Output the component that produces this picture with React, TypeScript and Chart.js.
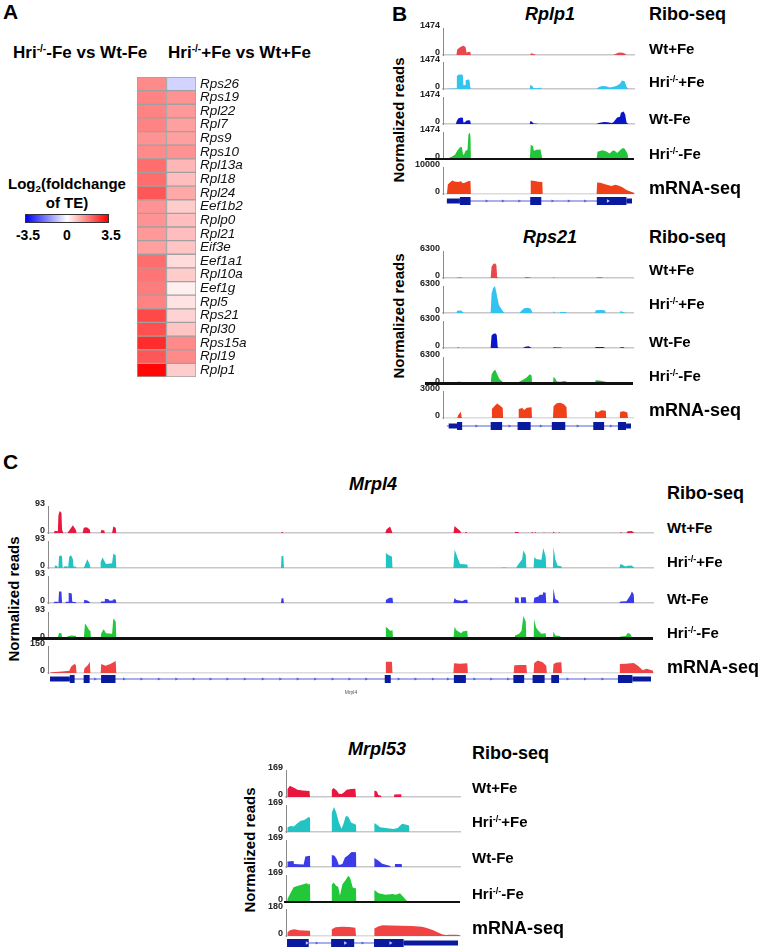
import React, { useEffect, useRef } from 'react';
import { Chart, registerables } from 'chart.js';
Chart.register(...registerables);

const FONT = '"Liberation Sans", Arial, Helvetica, sans-serif';

// ---------------- Panel A data ----------------
const heatGenes = ['Rps26','Rps19','Rpl22','Rpl7','Rps9','Rps10','Rpl13a','Rpl18','Rpl24','Eef1b2','Rplp0','Rpl21','Eif3e','Eef1a1','Rpl10a','Eef1g','Rpl5','Rps21','Rpl30','Rps15a','Rpl19','Rplp1'];
const teHriMinusFe = [1.6,1.7,1.7,1.7,1.5,1.6,2.0,2.0,2.3,1.5,1.5,1.4,1.3,2.0,1.9,1.8,1.7,2.5,2.4,2.9,2.3,3.4];
const teHriPlusFe = [-0.6,1.5,1.4,1.3,1.3,1.5,1.0,0.9,1.2,0.7,0.9,0.9,0.8,0.5,0.7,0.2,0.4,0.6,0.8,1.6,1.6,0.7];
const colorbarTicks = ['-3.5', '0', '3.5'];
const TE_LIMIT = 3.5;

// ---------------- Rplp1 ----------------
const rplp1Max = [1474, 1474, 1474, 1474, 10000];
const rplp1WtPlusFe = [[5,0],[5.5,300],[7,420],[8,480],[9,500],[10,420],[10.5,120],[11,150],[12,180],[12.5,170],[12.8,0],[44.5,0],[45,90],[46.5,60],[47.5,0],[89,0],[90,60],[92,130],[94,120],[95.5,60],[96,0]];
const rplp1HriPlusFe = [[0,0],[1,20],[5,30],[5.3,700],[6,780],[8,790],[8.5,760],[8.8,200],[9.8,220],[10,480],[11.5,520],[12,500],[12.5,100],[12.8,0],[44.3,0],[44.6,220],[45.5,180],[46.3,60],[48,40],[50,60],[51,0],[80,0],[81,100],[83,170],[85,150],[87,80],[89,120],[90.5,170],[92.5,280],[93.5,470],[95,420],[96,120],[97,0]];
const rplp1WtMinusFe = [[4.8,0],[5.2,150],[6,300],[7.5,360],[8.5,340],[8.8,80],[9.8,90],[10.2,180],[11.5,200],[12.4,190],[12.8,0],[44.3,0],[44.6,160],[45.5,120],[46.3,30],[48,20],[49,0],[80,0],[81,60],[84,110],[86,90],[88,60],[89,100],[91,350],[92.5,400],[93,620],[94.5,680],[95.3,500],[96,80],[97,0]];
const rplp1HriMinusFe = [[0,0],[1,60],[3,150],[4.4,250],[5.5,450],[7,640],[8,650],[8.5,300],[9,200],[9.8,420],[10.5,480],[11,500],[11.5,1350],[12.3,1430],[12.6,1200],[12.8,0],[44.3,0],[44.8,780],[46,700],[46.5,450],[48,500],[50,520],[51,0],[80,0],[80.5,400],[83,480],[85,420],[87,300],[88.5,450],[89.5,470],[91,330],[92.5,480],[94,600],[95,560],[96.5,300],[97,0]];
const rplp1Mrna = [[0,0],[0.5,3500],[2,4500],[3,5000],[4,4600],[6,4400],[7.5,4700],[8.5,4000],[9.5,4200],[11,4600],[12,4900],[12.6,4700],[12.8,0],[44.5,0],[44.8,5000],[47,4800],[49,4500],[51,4400],[51.2,0],[80,0],[80.3,4300],[82,4200],[85,3500],[88,3000],[90,3400],[92,3100],[94,2400],[96,1500],[98,900],[100,500]];
const rplp1Exons = [[7,12.8],[45,51],[81,97]];
const rplp1Utrs = [[0,7],[97,100]];
const rplp1Arrows = [21.4,30.2,39.1,57,65.8,74.7];
const rplp1ExonArrows = [87];

// ---------------- Rps21 ----------------
const rps21Max = [6300, 6300, 6300, 6300, 3000];
const rps21WtPlusFe = [[5,0],[6,120],[8,100],[8.5,0],[23.5,0],[24,2600],[25,3300],[26,3400],[26.6,3000],[27,200],[28,0],[41.5,0],[42.5,250],[44,200],[45.5,0],[56.8,0],[57.3,200],[58,0],[80,0],[81,180],[83,160],[84,0]];
const rps21HriPlusFe = [[5,0],[5.5,500],[7.5,560],[8.5,300],[9,0],[23.5,0],[24,4500],[24.8,5800],[25.8,6300],[26.5,5000],[27,3800],[28,1800],[29.5,800],[30.5,200],[31,0],[39,0],[40,500],[41.5,1100],[43.5,1250],[45,1000],[45.8,300],[46,0],[57,0],[57.4,400],[58.2,0],[60.5,0],[61,250],[64,250],[64.3,0],[79.5,0],[80,650],[83,700],[85,600],[85.4,0],[93,0],[93.3,450],[95,200],[96,0]];
const rps21WtMinusFe = [[5.5,0],[6,150],[6.5,0],[23.5,0],[24,2900],[25,3300],[26.3,3400],[26.8,3000],[27.3,200],[28,0],[41,0],[42,300],[44,380],[45.5,0],[57,0],[57.5,150],[59,100],[61,120],[62,0],[79.5,0],[80,240],[84,250],[85,0],[93,0],[93.3,200],[95,150],[95.5,0]];
const rps21HriMinusFe = [[5,0],[5.5,500],[7.5,550],[8.3,300],[8.5,0],[23.5,0],[24,2200],[25,3000],[26,3300],[27,2300],[28.3,1100],[29.5,700],[30.5,300],[31,0],[38.3,0],[39,600],[41,1000],[43,1600],[44.5,2300],[45.5,2000],[45.8,0],[57,0],[57.3,1700],[58.3,1200],[59,600],[61,500],[63,700],[64.3,600],[64.5,0],[79.5,0],[80,900],[82,800],[84,650],[85.4,500],[85.6,0],[93,0],[93.3,500],[95,300],[96.5,100],[97,0]];
const rps21Mrna = [[5.5,0],[6,300],[7.5,700],[8,0],[23.8,0],[24.2,1000],[25.5,1300],[27,1600],[28.5,1400],[30,1100],[30.2,0],[38.4,0],[38.6,1000],[40.5,1100],[41.5,900],[43,1150],[45.5,1200],[45.7,0],[57,0],[57.3,1300],[59,1650],[61,1700],[63,1500],[64.3,1200],[64.5,0],[79.5,0],[79.7,800],[81,600],[83,860],[85.4,800],[85.6,0],[92.9,0],[93.1,700],[95,750],[97,600],[97.3,0]];
const rps21Exons = [[5.5,8.3],[23.8,30],[38.4,45.5],[57,64.3],[79.5,85.4],[92.9,97.3]];
const rps21Utrs = [[1,5.5],[97.3,100]];
const rps21Arrows = [16,34,51,71,89];
const rps21ExonArrows: number[] = [];

// ---------------- Mrpl4 ----------------
const mrpl4Max = [93, 93, 93, 93, 150];
const mrpl4WtPlusFe = [[0.6,0],[0.8,8],[1.3,6],[1.4,60],[1.6,76],[1.9,70],[2.0,12],[2.2,0],[2.9,0],[3.3,12],[3.8,27],[4.3,10],[4.4,0],[5.4,0],[5.6,18],[6.1,20],[6.6,12],[6.7,0],[8.4,0],[8.5,10],[9.0,9],[9.1,0],[10.3,0],[10.5,22],[10.9,18],[11,0],[38.3,0],[38.5,4],[38.7,0],[55.6,0],[55.8,12],[56.4,22],[56.8,0],[66.9,0],[67.1,24],[67.5,16],[68,8],[68.2,0],[68.8,0],[69,4],[69.2,0],[77.0,0],[77.1,4],[77.7,3],[77.8,0],[79.8,0],[80,4],[80.1,0],[80.3,0],[80.4,5],[80.6,0],[81.8,0],[81.9,6],[82,0],[83.4,0],[83.5,5],[83.7,0],[84.3,0],[84.4,3],[84.6,0],[94.5,0],[94.7,3],[94.9,0],[95.6,0],[95.8,6],[96.5,7],[96.9,0]];
const mrpl4HriPlusFe = [[0.7,0],[0.8,9],[1.2,7],[1.3,0],[1.4,0],[1.5,40],[1.8,44],[2.0,40],[2.1,0],[2.2,0],[2.3,5],[2.9,6],[3.0,0],[3.1,0],[3.2,40],[3.5,44],[3.8,30],[3.9,5],[4.3,4],[4.4,0],[5.6,0],[5.8,10],[6.2,30],[6.6,12],[6.7,0],[8.3,0],[8.4,20],[8.7,36],[9.3,14],[10.3,16],[10.5,49],[10.9,45],[11,0],[38.3,0],[38.4,41],[38.7,41],[38.8,0],[55.6,0],[55.7,52],[56.2,44],[56.7,40],[56.8,0],[66.9,0],[67.1,64],[67.6,35],[68,14],[69.2,12],[69.3,0],[74.9,0],[75,2],[75.6,2],[75.7,0],[77.3,0],[77.5,8],[78.3,30],[78.5,60],[78.9,45],[79,0],[80.2,0],[80.3,37],[80.7,30],[81.5,28],[81.8,69],[82.2,40],[82.3,0],[83.4,0],[83.5,72],[83.8,30],[84.2,8],[84.8,6],[84.9,0],[94.4,0],[94.6,14],[95,10],[95.4,5],[95.8,8],[96.5,9],[96.9,0]];
const mrpl4WtMinusFe = [[0.6,0],[0.7,4],[1.3,4],[1.4,0],[1.5,40],[1.9,40],[2.0,0],[2.5,0],[2.6,4],[3.0,4],[3.1,35],[3.6,33],[3.7,4],[4.3,3],[4.4,0],[5.6,0],[5.7,11],[6.3,8],[6.6,3],[6.7,0],[8.4,0],[8.5,5],[9.0,5],[9.1,15],[9.7,13],[9.9,8],[10.4,9],[10.5,13],[10.9,12],[11,0],[38.3,0],[38.4,16],[38.7,16],[38.8,0],[55.6,0],[55.7,10],[56.3,18],[56.8,18],[56.9,0],[66.9,0],[67.1,17],[67.4,10],[68.4,7],[68.8,11],[69.2,11],[69.3,0],[77.0,0],[77.1,20],[77.7,18],[77.8,0],[78.0,0],[78.1,20],[78.9,20],[79,0],[80.2,0],[80.3,18],[81,22],[81.2,28],[81.7,28],[81.8,37],[82.2,35],[82.3,0],[83.4,0],[83.5,50],[83.8,14],[84.3,8],[84.4,0],[94.4,0],[94.6,5],[95.6,6],[96.2,25],[96.5,40],[96.8,30],[96.9,0]];
const mrpl4HriMinusFe = [[0.4,0],[0.6,2],[1.3,5],[1.5,21],[1.9,20],[2.0,5],[2.8,7],[3.1,10],[3.6,12],[4.0,11],[4.3,10],[4.4,0],[5.6,0],[5.8,53],[6.1,45],[6.5,30],[6.7,28],[6.8,0],[8.4,0],[8.5,20],[8.9,34],[9.3,20],[10.3,18],[10.5,71],[10.9,60],[11,0],[55.6,0],[55.7,42],[56.1,35],[56.4,28],[56.8,30],[56.9,0],[66.9,0],[67.1,42],[67.4,30],[68.2,20],[68.4,26],[69.2,28],[69.3,0],[77.0,0],[77.1,12],[77.8,18],[78.2,28],[78.5,79],[78.9,60],[79,0],[80.2,0],[80.3,69],[80.6,40],[81,28],[81.5,18],[82.2,20],[82.3,0],[83.4,0],[83.5,26],[83.8,12],[84.6,10],[84.8,0],[94.4,0],[94.6,9],[95.5,10],[95.8,21],[96.2,18],[96.5,6],[96.9,0]];
const mrpl4Mrna = [[0,0],[0.2,4],[2,8],[3.2,12],[3.5,35],[4,50],[4.3,45],[4.4,0],[5.6,0],[5.7,25],[6.3,45],[6.6,63],[6.7,0],[8.4,0],[8.5,50],[9.2,40],[10,50],[10.9,67],[11,0],[55.6,0],[55.7,63],[56.7,62],[56.8,0],[66.9,0],[67,54],[68,52],[69.2,54],[69.3,0],[76.9,0],[77,43],[78,45],[79,44],[79.1,0],[80.2,0],[80.3,55],[80.9,70],[81.7,60],[82.3,40],[82.4,0],[83.4,0],[83.5,50],[84,58],[84.8,60],[84.9,0],[94.4,0],[94.5,50],[95.5,52],[96.8,56],[97.5,40],[98.3,15],[98.9,23],[99.5,18],[100,12]];
const mrpl4Exons = [[3.3,4.1],[5.6,6.6],[8.5,10.9],[55.7,56.7],[67.2,69.2],[77.1,78.9],[80.3,82.3],[83.4,84.7],[94.5,96.9]];
const mrpl4Utrs = [[0,3.3],[96.9,100]];
const mrpl4Arrows = [7.5,12.3,15.2,18.1,21.0,23.9,26.7,29.5,32.4,35.4,38.3,41.2,44.1,47.0,49.8,52.6,58,60.8,63.7,66.2,70.6,73.4,76.2,86.1,89,91.9];
const mrpl4ExonArrows: number[] = [];

// ---------------- Mrpl53 ----------------
const mrpl53Max = [169, 169, 169, 169, 180];
const mrpl53WtPlusFe = [[0,0],[0.3,50],[1.7,70],[3,62],[4.6,55],[6,45],[9,40],[13,38],[13.3,0],[25.7,0],[25.9,45],[27,56],[28.7,40],[30,20],[31.6,18],[33,30],[34.5,46],[37,50],[39.5,51],[39.9,0],[50.3,0],[50.5,41],[52,35],[52.8,12],[54.3,8],[54.5,0],[61.8,0],[62,15],[66,17],[66.3,0]];
const mrpl53HriPlusFe = [[0,0],[0.3,30],[2,37],[4,35],[6,55],[8,70],[10,75],[12.3,93],[13.3,90],[13.4,0],[25.7,0],[25.9,120],[27.2,156],[28.5,120],[30,60],[31.5,20],[32.6,50],[34,100],[35.5,95],[37,60],[39.9,45],[40,0],[50.3,0],[50.5,56],[52,45],[53.8,30],[57,25],[61.5,18],[64,25],[66.5,51],[69,45],[70.6,40],[70.8,0]];
const mrpl53WtMinusFe = [[0,0],[0.3,35],[3.8,37],[4,18],[9.6,15],[10.6,65],[13.3,71],[13.4,0],[25.7,0],[25.9,75],[27.5,70],[28.7,50],[30,12],[32,18],[33.5,60],[35,70],[37.3,94],[39.9,92],[40,0],[50.3,0],[50.5,56],[52.8,40],[55,20],[59.3,8],[60,0],[62.2,0],[62.4,19],[66.3,19],[66.5,0]];
const mrpl53HriMinusFe = [[0,0],[0.3,20],[3.8,93],[6,100],[9,110],[11.4,118],[12.5,110],[13.3,112],[13.4,0],[25.7,0],[25.9,110],[27,122],[28.5,100],[29.6,95],[30.6,40],[32,110],[34,140],[35.4,164],[36.5,150],[38,90],[39.9,85],[40,0],[50.3,0],[50.5,75],[53,55],[57,45],[61,50],[63,45],[65.3,55],[67,35],[69.1,10],[69.3,0]];
const mrpl53Mrna = [[0,0],[0.3,25],[2,40],[4.2,45],[7.1,38],[10,36],[13.3,35],[13.4,0],[25.7,0],[25.9,45],[28,58],[32,62],[36,60],[39.5,55],[39.9,0],[50.3,0],[50.5,50],[53,65],[55.3,72],[60,70],[66,68],[72,66],[78,62],[80.3,55],[84.2,40],[88,20],[90,10],[92,6],[94,9],[98,9],[100,5]];
const mrpl53Exons = [[0,12.7],[25.8,39.3],[50.9,68.2]];
const mrpl53Utrs = [[68.2,100]];
const mrpl53Arrows = [17.3,44.1];
const mrpl53ExonArrows = [11.6,34,60.5];

const sampleLabels = ['Wt+Fe', 'Hri+Fe', 'Wt-Fe', 'Hri-Fe', 'mRNA-seq'];

// ---------------- styles / layout ----------------
const colorsB = ['#e8474c', '#33c3ef', '#0a14c8', '#22c43a', '#f0401a'];
const colorsC = ['#e8173f', '#22c3c3', '#3c3ce6', '#22c83a', '#f04444'];
const GENE = '#0a1a9e';
const INTRON = '#5563d8';
const AXW = 30;
const PAD = 7;
const PADB = 4;
const H = 27;

const panels = [
  { key: 'rplp1', title: 'Rplp1', tracks: [rplp1WtPlusFe, rplp1HriPlusFe, rplp1WtMinusFe, rplp1HriMinusFe, rplp1Mrna], max: rplp1Max,
    exons: rplp1Exons, utrs: rplp1Utrs, arrows: rplp1Arrows, exonArrows: rplp1ExonArrows, colors: colorsB,
    axisX: 443, right: 634, xMin: -2.1, baselines: [54.5, 89, 124, 159, 194], geneY: 201, labelX: 649, labelYs: [48, 81, 118, 153, 188],
    titleX: 550, titleY: 14, riboY: 14, nrX: 398, nrY: 120, sepLeft: 425 },
  { key: 'rps21', title: 'Rps21', tracks: [rps21WtPlusFe, rps21HriPlusFe, rps21WtMinusFe, rps21HriMinusFe, rps21Mrna], max: rps21Max,
    exons: rps21Exons, utrs: rps21Utrs, arrows: rps21Arrows, exonArrows: rps21ExonArrows, colors: colorsB,
    axisX: 443, right: 633, xMin: -2.1, baselines: [278, 313, 348, 383.5, 418], geneY: 426, labelX: 649, labelYs: [269, 303, 341, 375, 410],
    titleX: 550, titleY: 237, riboY: 237, nrX: 398, nrY: 316, sepLeft: 425 },
  { key: 'mrpl4', title: 'Mrpl4', tracks: [mrpl4WtPlusFe, mrpl4HriPlusFe, mrpl4WtMinusFe, mrpl4HriMinusFe, mrpl4Mrna], max: mrpl4Max,
    exons: mrpl4Exons, utrs: mrpl4Utrs, arrows: mrpl4Arrows, exonArrows: mrpl4ExonArrows, colors: colorsC,
    axisX: 48, right: 653, xMin: -0.33, baselines: [533, 568, 603, 638.5, 673], geneY: 679, labelX: 667, labelYs: [527, 561, 598, 632, 667],
    titleX: 373, titleY: 484, riboY: 493, nrX: 13, nrY: 599, sepLeft: 32 },
  { key: 'mrpl53', title: 'Mrpl53', tracks: [mrpl53WtPlusFe, mrpl53HriPlusFe, mrpl53WtMinusFe, mrpl53HriMinusFe, mrpl53Mrna], max: mrpl53Max,
    exons: mrpl53Exons, utrs: mrpl53Utrs, arrows: mrpl53Arrows, exonArrows: mrpl53ExonArrows, colors: colorsC,
    axisX: 286, right: 460, xMin: -0.58, baselines: [797, 832, 867, 902, 936], geneY: 943, labelX: 472, labelYs: [787, 821, 857, 893, 928],
    titleX: 377, titleY: 749, riboY: 753, nrX: 249, nrY: 850, sepLeft: 284 },
];

function heatColor(v: number) {
  const t = Math.min(1, Math.abs(v) / TE_LIMIT);
  const c = Math.round(255 * (1 - t));
  return v >= 0 ? `rgb(255,${c},${c})` : `rgb(${c},${c},255)`;
}

function ChartBox({ left, top, width, height, make }: any) {
  const ref = useRef<HTMLCanvasElement>(null);
  useEffect(() => {
    const chart = new Chart(ref.current as HTMLCanvasElement, make());
    return () => chart.destroy();
  }, []);
  return (
    <div style={{ position: 'absolute', left, top, width, height }}>
      <canvas ref={ref} width={width} height={height} style={{ width, height, display: 'block' }} />
    </div>
  );
}

function T({ x, y, size = 15, bold = true, italic = false, align = 'l', color = '#000', rotate = false, children }: any) {
  const tx = align === 'c' ? '-50%' : align === 'r' ? '-100%' : '0';
  return (
    <div style={{ position: 'absolute', left: x, top: y, transform: `translate(${tx},-50%)${rotate ? ' rotate(-90deg)' : ''}`,
      transformOrigin: rotate ? 'center' : undefined, fontSize: size, fontWeight: bold ? 'bold' : 'normal', fontStyle: italic ? 'italic' : 'normal',
      color, whiteSpace: 'nowrap', lineHeight: 1, fontFamily: FONT }}>{children}</div>
  );
}

const Sup = ({ children }: any) => (
  <span style={{ fontSize: '0.6em', position: 'relative', top: '-0.55em' }}>{children}</span>
);

function SampleLabel({ name }: { name: string }) {
  if (name.startsWith('Hri')) return <>Hri<Sup>-/-</Sup>{name.slice(3)}</>;
  return <>{name}</>;
}

function trackConfig(pts: number[][], color: string, max: number, xMin: number, borderColor: string, borderWidth: number) {
  return {
    type: 'line',
    data: { datasets: [{ data: pts, fill: 'origin', backgroundColor: color, borderColor: color, borderWidth: 0, pointRadius: 0, tension: 0 }] },
    options: {
      animation: false, responsive: false, events: [],
      layout: { padding: { top: PAD, right: 2, bottom: PADB, left: 0 } },
      plugins: { legend: { display: false }, tooltip: { enabled: false } },
      scales: {
        x: { type: 'linear', min: xMin, max: 100, grid: { display: false, drawTicks: false, tickLength: 0 }, ticks: { display: false },
          border: { display: borderWidth > 0, color: borderColor, width: borderWidth },
          afterFit: (s: any) => { s.height = 0; s.paddingLeft = 0; s.paddingRight = 0; } },
        y: { type: 'linear', min: 0, max, grid: { display: false, drawTicks: false, tickLength: 0 }, border: { display: true, color: '#8a8a8a', width: 1 },
          ticks: { autoSkip: false, padding: 3, labelOffset: -2, color: '#222', font: { family: FONT, size: 9, weight: 'bold' }, callback: (v: any) => String(v) },
          afterBuildTicks: (s: any) => { s.ticks = [{ value: 0 }, { value: max }]; },
          afterFit: (s: any) => { s.width = AXW; s.paddingTop = 0; s.paddingBottom = 0; } },
      },
    },
  };
}

function geneConfig(p: any) {
  const seg = (r: number[]) => [[r[0], 0], [r[1], 0]];
  const datasets: any[] = [
    { data: p.exonArrows.map((a: number) => [a, 0]), showLine: false, pointStyle: 'triangle', rotation: 90, pointRadius: 2, backgroundColor: '#c8ccff', borderWidth: 0, order: 0 },
    { data: p.arrows.map((a: number) => [a, 0]), showLine: false, pointStyle: 'triangle', rotation: 90, pointRadius: 1.8, backgroundColor: INTRON, borderWidth: 0, order: 1 },
    ...p.exons.map((r: number[]) => ({ data: seg(r), borderColor: GENE, borderWidth: 8, borderCapStyle: 'butt', pointRadius: 0, order: 2 })),
    ...p.utrs.map((r: number[]) => ({ data: seg(r), borderColor: GENE, borderWidth: 5, borderCapStyle: 'butt', pointRadius: 0, order: 3 })),
    { data: [[0, 0], [100, 0]], borderColor: INTRON, borderWidth: 1.2, pointRadius: 0, order: 4 },
  ];
  return {
    type: 'line',
    data: { datasets },
    options: {
      animation: false, responsive: false, events: [],
      layout: { padding: { top: 0, right: 2, bottom: 0, left: AXW } },
      plugins: { legend: { display: false }, tooltip: { enabled: false } },
      scales: {
        x: { type: 'linear', min: p.xMin, max: 100, display: false },
        y: { type: 'linear', min: -1, max: 1, display: false },
      },
    },
  };
}

function heatConfig() {
  const ds = (vals: number[]) => ({
    data: heatGenes.map(() => 1), backgroundColor: vals.map(heatColor), borderColor: '#a0a0a0', borderWidth: 1,
    borderSkipped: false, barPercentage: 1, categoryPercentage: 1,
  });
  return {
    type: 'bar',
    data: { labels: heatGenes, datasets: [ds(teHriMinusFe), ds(teHriPlusFe)] },
    options: {
      indexAxis: 'y', animation: false, responsive: false, events: [],
      layout: { padding: { top: 6, bottom: 6, left: 1, right: 0 } },
      plugins: { legend: { display: false }, tooltip: { enabled: false } },
      scales: {
        x: { stacked: true, display: false, min: 0, max: 2 },
        y: { stacked: true, position: 'right', grid: { display: false, drawTicks: false }, border: { display: false },
          ticks: { autoSkip: false, padding: 4, color: '#111', font: { family: FONT, size: 13.5, style: 'italic' } },
          afterFit: (s: any) => { s.width = 66; s.paddingTop = 0; s.paddingBottom = 0; } },
      },
    },
  };
}

function GenePanel({ p }: any) {
  const left = p.axisX - AXW;
  const width = p.right - left + 2;
  return (
    <>
      <T x={p.titleX} y={p.titleY} size={18} italic align="c">{p.title}</T>
      <T x={p.labelX} y={p.riboY} size={18}>Ribo-seq</T>
      <T x={p.nrX} y={p.nrY} size={15} align="c" rotate>Normalized reads</T>
      {p.tracks.map((pts: number[][], i: number) => {
        const isMrna = i === 4;
        const isSep = i === 3;
        return (
          <ChartBox key={p.key + i} left={left} top={p.baselines[i] - H - PAD} width={width} height={H + PAD + PADB}
            make={() => trackConfig(pts, p.colors[i], p.max[i], p.xMin, isMrna ? '#dcdcdc' : '#c8c8c8', isSep ? 0 : 1.5)} />
        );
      })}
      <div style={{ position: 'absolute', left: p.sepLeft, top: p.baselines[3] - 1.2, width: p.right - p.sepLeft, height: 2.5, background: '#111' }} />
      <ChartBox left={left} top={p.geneY - 8} width={width} height={16} make={() => geneConfig(p)} />
      {sampleLabels.map((s, i) => (
        <T key={s} x={p.labelX} y={p.labelYs[i]} size={i === 4 ? 18 : 15}><SampleLabel name={s} /></T>
      ))}
    </>
  );
}

export default function App() {
  return (
    <div style={{ position: 'fixed', left: 0, top: 0, width: 759, height: 950, background: '#fff', overflow: 'hidden', fontFamily: FONT }}>
      <T x={3} y={11} size={21}>A</T>
      <T x={392} y={13} size={21}>B</T>
      <T x={3} y={461} size={21}>C</T>

      <T x={13} y={52} size={17}>Hri<Sup>-/-</Sup>-Fe vs Wt-Fe</T>
      <T x={168} y={52} size={17}>Hri<Sup>-/-</Sup>+Fe vs Wt+Fe</T>
      <ChartBox left={136} top={71} width={126} height={312} make={heatConfig} />

      <T x={67} y={183} size={15} align="c">Log<span style={{ fontSize: '0.65em', position: 'relative', top: '0.35em' }}>2</span>(foldchange</T>
      <T x={67} y={202} size={15} align="c">of TE)</T>
      <div style={{ position: 'absolute', left: 25, top: 214, width: 82, height: 7, border: '1px solid #333',
        background: 'linear-gradient(to right, #0000ff, #ffffff, #ff0000)' }} />
      <T x={28} y={235} size={14} align="c">{colorbarTicks[0]}</T>
      <T x={67} y={235} size={14} align="c">{colorbarTicks[1]}</T>
      <T x={111} y={235} size={14} align="c">{colorbarTicks[2]}</T>

      {panels.map((p) => <GenePanel key={p.key} p={p} />)}
      <T x={351} y={692} size={5} bold={false} color="#555" align="c">Mrpl4</T>
    </div>
  );
}
